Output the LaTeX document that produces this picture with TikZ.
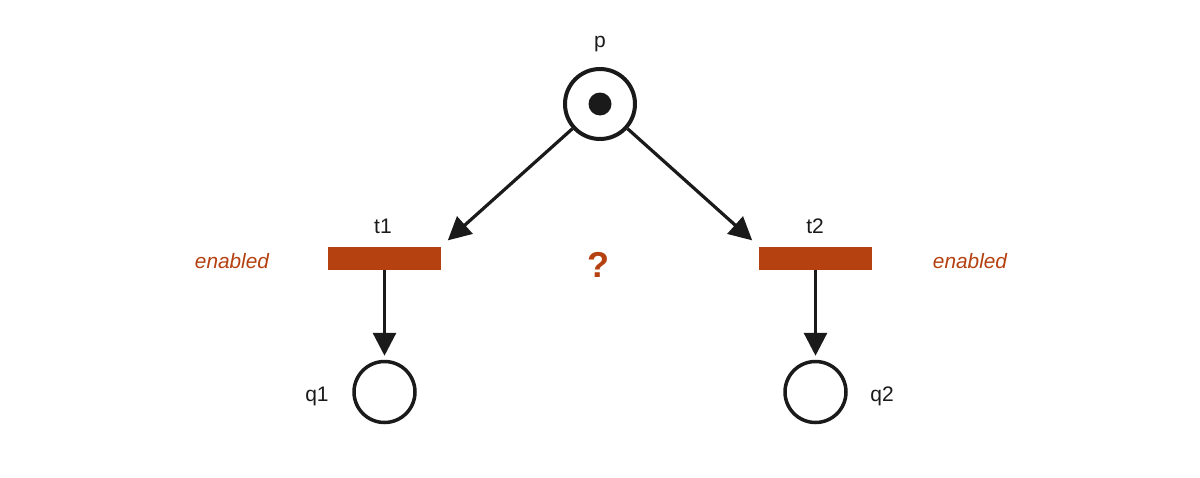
\documentclass[tikz,border=0pt]{standalone}
\usepackage{fontspec}
\setmainfont{Liberation Sans}
\usetikzlibrary{arrows.meta}
\definecolor{rust}{RGB}{181,64,16}
\definecolor{ink}{RGB}{26,26,26}
\begin{document}
\begin{tikzpicture}[x=0.5pt,y=-0.5pt,
  place/.style={circle,draw=ink,line width=2pt,fill=white,inner sep=0pt},
  bigplace/.style={place,minimum size=35pt},
  smallplace/.style={place,line width=1.75pt,minimum size=30.5pt},
  trans/.style={rectangle,fill=rust,draw=none,minimum width=56.5pt,minimum height=11.5pt,inner sep=0pt},
  lbl/.style={font=\fontsize{10.5}{12}\selectfont,text=ink,anchor=base,inner sep=0pt},
  note/.style={font=\fontsize{10.4}{12}\selectfont\itshape,text=rust,anchor=base,inner sep=0pt},
  arc/.style={draw=ink,line width=1.6pt,-{Triangle[length=11.5pt,width=11.5pt]}},
  token/.style={circle,fill=ink,inner sep=0pt,minimum size=11.5pt}]
\useasboundingbox[fill=white] (0,0) rectangle (1200,477);
\node[bigplace] (p) at (600,104) {};
\node[token] (tok) at (600,104) {};
\node[trans] (t1) at (384.5,258) {};
\node[trans] (t2) at (815.5,258) {};
\node[smallplace] (q1) at (384.5,392) {};
\node[smallplace] (q2) at (815.5,392) {};
\node[lbl] (pl) at (600,47) {p};
\node[lbl] (t1l) at (383,233) {t1};
\node[lbl] (t2l) at (815,233) {t2};
\node[lbl] (q1l) at (317,401) {q1};
\node[lbl] (q2l) at (882,401) {q2};
\node[note] (e1) at (232,268) {enabled};
\node[note] (e2) at (970,268) {enabled};
\node[font=\fontsize{18}{20}\selectfont\bfseries,text=rust,anchor=base,inner sep=0pt] (qm) at (598,277) {?};
\draw[arc,shorten >=4.3pt] (p) -- (t1.north east);
\draw[arc,shorten >=4.3pt] (p) -- (t2.north west);
\draw[arc,shorten >=2pt] (t1.south) -- (q1.north);
\draw[arc,shorten >=2pt] (t2.south) -- (q2.north);
\end{tikzpicture}
\end{document}
